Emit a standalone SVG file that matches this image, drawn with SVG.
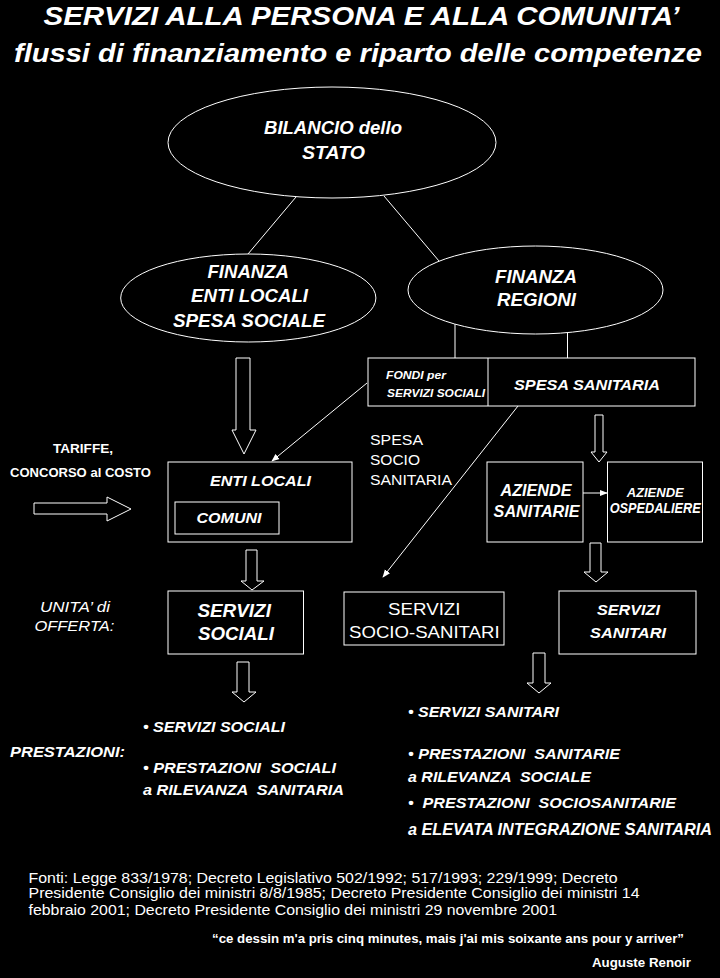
<svg xmlns="http://www.w3.org/2000/svg" width="720" height="978" viewBox="0 0 720 978">
<defs>
<style>
text{fill:#fff;font-family:"Liberation Sans",Arial,sans-serif;white-space:pre}
.bi{font-weight:bold;font-style:italic}
.i{font-style:italic}
.b{font-weight:bold}
.shape{fill:#000;stroke:#fff;stroke-width:1}
.ln{stroke:#fff;stroke-width:1;fill:none}
</style>
<marker id="ah" viewBox="0 0 10 10" refX="9" refY="5" markerWidth="8" markerHeight="8" markerUnits="userSpaceOnUse" orient="auto">
<path d="M0,1 L10,5 L0,9 Z" fill="#fff"/>
</marker>
</defs>
<rect width="720" height="978" fill="#000"/>

<g id="title">
<text class="bi" x="43.5" y="25" font-size="25" textLength="636" lengthAdjust="spacingAndGlyphs">SERVIZI ALLA PERSONA E ALLA COMUNITA’</text>
<text class="bi" x="14" y="62" font-size="26" textLength="688" lengthAdjust="spacingAndGlyphs">flussi di finanziamento e riparto delle competenze</text>
</g>

<g id="connectors">
<line class="ln" x1="296" y1="197" x2="248" y2="254"/>
<line class="ln" x1="384" y1="196" x2="439" y2="261"/>
<line class="ln" x1="455" y1="324" x2="455" y2="358"/>
<line class="ln" x1="567.5" y1="333" x2="567.5" y2="358"/>
<line class="ln" x1="367" y1="383" x2="272" y2="461" marker-end="url(#ah)"/>
<line class="ln" x1="518" y1="406" x2="383" y2="577" marker-end="url(#ah)"/>
<line class="ln" x1="583" y1="493" x2="607" y2="493" marker-end="url(#ah)"/>
<polygon class="shape" points="236,358 250,358 250,430 256,430 244,454 232,430 236,430"/>
<polygon class="shape" points="595,415 603,415 603,452 607,452 599,462 591,452 595,452"/>
<polygon class="shape" points="34,503 107,503 107,497 131,509 107,521 107,514 34,514"/>
<polygon class="shape" points="246,550 257,550 257,581 264,581 252,590 241,581 246,581"/>
<polygon class="shape" points="590,543 601,543 601,572 608,572 596,582 584,572 590,572"/>
<polygon class="shape" points="237,662 249,662 249,692 256,692 244,702 232,692 237,692"/>
<polygon class="shape" points="533,653 545,653 545,683 551,683 539,693 527,683 533,683"/>
</g>

<g id="bilancio">
<ellipse class="shape" cx="332" cy="142.5" rx="164" ry="55.5"/>
<text class="bi" x="264" y="134" font-size="17.5" textLength="138" lengthAdjust="spacingAndGlyphs">BILANCIO dello</text>
<text class="bi" x="302" y="159" font-size="17.5" textLength="63" lengthAdjust="spacingAndGlyphs">STATO</text>
</g>

<g id="finanza-enti-locali">
<ellipse class="shape" cx="248.3" cy="298" rx="127.6" ry="44"/>
<text class="bi" x="207.5" y="278" font-size="19" textLength="81.5" lengthAdjust="spacingAndGlyphs">FINANZA</text>
<text class="bi" x="191" y="302" font-size="19" textLength="117" lengthAdjust="spacingAndGlyphs">ENTI LOCALI</text>
<text class="bi" x="173" y="327" font-size="19" textLength="152" lengthAdjust="spacingAndGlyphs">SPESA SOCIALE</text>
</g>

<g id="finanza-regioni">
<ellipse class="shape" cx="535.5" cy="290" rx="127.5" ry="44"/>
<text class="bi" x="495" y="283" font-size="18.5" textLength="82" lengthAdjust="spacingAndGlyphs">FINANZA</text>
<text class="bi" x="497" y="306" font-size="18.5" textLength="79" lengthAdjust="spacingAndGlyphs">REGIONI</text>
</g>

<g id="fondi-spesa">
<rect class="shape" x="368" y="358" width="327" height="48"/>
<line class="ln" x1="488" y1="358" x2="488" y2="406"/>
<text class="bi" x="386" y="379" font-size="10.5" textLength="60" lengthAdjust="spacingAndGlyphs">FONDI per</text>
<text class="bi" x="387" y="397" font-size="10.5" textLength="98" lengthAdjust="spacingAndGlyphs">SERVIZI SOCIALI</text>
<text class="bi" x="514" y="390" font-size="15" textLength="146" lengthAdjust="spacingAndGlyphs">SPESA SANITARIA</text>
</g>

<g id="tariffe">
<text class="b" x="53" y="453" font-size="13" textLength="60" lengthAdjust="spacingAndGlyphs">TARIFFE,</text>
<text class="b" x="10" y="477" font-size="13" textLength="141" lengthAdjust="spacingAndGlyphs">CONCORSO al COSTO</text>
</g>

<g id="spesa-socio-sanitaria">
<text x="370" y="445" font-size="14" textLength="53" lengthAdjust="spacingAndGlyphs">SPESA</text>
<text x="370" y="465" font-size="14" textLength="50" lengthAdjust="spacingAndGlyphs">SOCIO</text>
<text x="370" y="485" font-size="14" textLength="82" lengthAdjust="spacingAndGlyphs">SANITARIA</text>
</g>

<g id="enti-locali">
<rect class="shape" x="168" y="462" width="184" height="80"/>
<text class="bi" x="210" y="486" font-size="14.5" textLength="101" lengthAdjust="spacingAndGlyphs">ENTI LOCALI</text>
<rect class="shape" x="175" y="502" width="104" height="32"/>
<text class="bi" x="196.5" y="523" font-size="14.5" textLength="65" lengthAdjust="spacingAndGlyphs">COMUNI</text>
</g>

<g id="aziende-sanitarie">
<rect class="shape" x="487" y="462" width="96" height="80"/>
<text class="bi" x="500.5" y="496" font-size="17" textLength="71" lengthAdjust="spacingAndGlyphs">AZIENDE</text>
<text class="bi" x="493.6" y="517" font-size="17" textLength="86" lengthAdjust="spacingAndGlyphs">SANITARIE</text>
</g>

<g id="aziende-ospedaliere">
<rect class="shape" x="607.5" y="462" width="95" height="80"/>
<text class="bi" x="626.7" y="497" font-size="12" textLength="57" lengthAdjust="spacingAndGlyphs">AZIENDE</text>
<text class="bi" x="609.7" y="513" font-size="14" textLength="91" lengthAdjust="spacingAndGlyphs">OSPEDALIERE</text>
</g>

<g id="unita-offerta">
<text class="i" x="40" y="612" font-size="14" textLength="70" lengthAdjust="spacingAndGlyphs">UNITA’ di</text>
<text class="i" x="34.4" y="631" font-size="14" textLength="80" lengthAdjust="spacingAndGlyphs">OFFERTA:</text>
</g>

<g id="servizi-sociali">
<rect class="shape" x="168" y="591" width="135.5" height="63"/>
<text class="bi" x="197.4" y="617" font-size="18.5" textLength="73.5" lengthAdjust="spacingAndGlyphs">SERVIZI</text>
<text class="bi" x="198" y="640" font-size="18.5" textLength="76" lengthAdjust="spacingAndGlyphs">SOCIALI</text>
</g>

<g id="servizi-socio-sanitari">
<rect class="shape" x="344" y="592" width="160" height="53"/>
<text x="388" y="615" font-size="17" textLength="72.5" lengthAdjust="spacingAndGlyphs">SERVIZI</text>
<text x="349" y="638" font-size="17" textLength="150.6" lengthAdjust="spacingAndGlyphs">SOCIO-SANITARI</text>
</g>

<g id="servizi-sanitari">
<rect class="shape" x="559" y="591" width="137" height="63"/>
<text class="bi" x="597" y="615" font-size="14" textLength="63" lengthAdjust="spacingAndGlyphs">SERVIZI</text>
<text class="bi" x="590" y="638" font-size="14" textLength="76" lengthAdjust="spacingAndGlyphs">SANITARI</text>
</g>

<g id="prestazioni">
<text class="bi" x="10" y="757" font-size="14.5" textLength="115" lengthAdjust="spacingAndGlyphs">PRESTAZIONI:</text>
<text class="bi" x="143" y="732" font-size="15" textLength="142" lengthAdjust="spacingAndGlyphs">• SERVIZI SOCIALI</text>
<text class="bi" x="143" y="773" font-size="15" textLength="193" lengthAdjust="spacingAndGlyphs">• PRESTAZIONI  SOCIALI</text>
<text class="bi" x="143" y="795" font-size="15" textLength="201" lengthAdjust="spacingAndGlyphs">a RILEVANZA  SANITARIA</text>
<text class="bi" x="408" y="717" font-size="15.5" textLength="151" lengthAdjust="spacingAndGlyphs">• SERVIZI SANITARI</text>
<text class="bi" x="408" y="759" font-size="15.5" textLength="212" lengthAdjust="spacingAndGlyphs">• PRESTAZIONI  SANITARIE</text>
<text class="bi" x="408" y="782" font-size="15.5" textLength="183" lengthAdjust="spacingAndGlyphs">a RILEVANZA  SOCIALE</text>
<text class="bi" x="408" y="808" font-size="15.5" textLength="268" lengthAdjust="spacingAndGlyphs">•  PRESTAZIONI  SOCIOSANITARIE</text>
<text class="bi" x="408" y="835" font-size="16" textLength="304" lengthAdjust="spacingAndGlyphs">a ELEVATA INTEGRAZIONE SANITARIA</text>
</g>

<g id="fonti">
<text x="28.5" y="883" font-size="14" textLength="589" lengthAdjust="spacingAndGlyphs">Fonti: Legge 833/1978; Decreto Legislativo 502/1992; 517/1993; 229/1999; Decreto</text>
<text x="28.5" y="898" font-size="14" textLength="611" lengthAdjust="spacingAndGlyphs">Presidente Consiglio dei ministri 8/8/1985; Decreto Presidente Consiglio dei ministri 14</text>
<text x="28.5" y="915" font-size="14" textLength="528.5" lengthAdjust="spacingAndGlyphs">febbraio 2001; Decreto Presidente Consiglio dei ministri 29 novembre 2001</text>
</g>

<g id="quote">
<text class="b" x="212" y="943" font-size="12" textLength="472" lengthAdjust="spacingAndGlyphs">“ce dessin m'a pris cinq minutes, mais j'ai mis soixante ans pour y arriver”</text>
<text class="b" x="592" y="967" font-size="12" textLength="99" lengthAdjust="spacingAndGlyphs">Auguste Renoir</text>
</g>
</svg>
